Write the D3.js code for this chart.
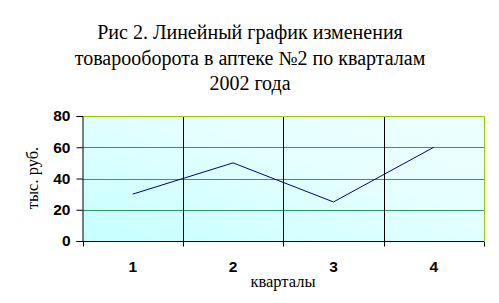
<!DOCTYPE html>
<html>
<head>
<meta charset="utf-8">
<script src="https://cdn.jsdelivr.net/npm/d3@7"></script>
<style>
body { margin: 0; background: #fff; }
svg { display: block; }
</style>
</head>
<body>
<div id="root"></div>
<script>
const titleLines = ["Рис 2. Линейный график изменения", "товарооборота в аптеке №2 по кварталам", "2002 года"];
const quarters = ["1", "2", "3", "4"];
const sales = [30, 50, 25, 60];
const yTicks = [0, 20, 40, 60, 80];
const yLabel = "тыс. руб.";
const xLabel = "кварталы";

const width = 499, height = 303;
const margin = {top: 116, right: 15, bottom: 62, left: 82.5};

const svg = d3.select('#root').append('svg')
	.attr('width', width).attr('height', height);

const defs = svg.append('defs');
const grad = defs.append('linearGradient').attr('id', 'bg')
	.attr('x1', '0%').attr('y1', '100%').attr('x2', '100%').attr('y2', '0%');
grad.append('stop').attr('offset', '0%').attr('stop-color', '#c6ffff');
grad.append('stop').attr('offset', '60%').attr('stop-color', '#e6ffff');
grad.append('stop').attr('offset', '100%').attr('stop-color', '#eeffff');

const x = d3.scaleBand().domain(quarters).range([margin.left, width - margin.right]).padding(0);
const y = d3.scaleLinear().domain([0, 80]).range([height - margin.bottom, margin.top]);

const serif = '"Liberation Serif", "Times New Roman", serif';
const sans = '"Liberation Sans", Arial, sans-serif';

// title
svg.append('g').selectAll('text').data(titleLines).enter().append('text')
	.attr('x', 250).attr('y', (d, i) => 39 + i * 25.5)
	.attr('text-anchor', 'middle')
	.attr('font-family', serif)
	.attr('font-size', 20)
	.text(d => d);

// plot background
svg.append('rect')
	.attr('x', x.range()[0]).attr('y', y(80))
	.attr('width', x.range()[1] - x.range()[0]).attr('height', y(0) - y(80))
	.attr('fill', 'url(#bg)');

// horizontal gridlines
svg.append('g').selectAll('line').data(yTicks.filter(d => d > 0 && d < 80)).enter().append('line')
	.attr('x1', x.range()[0]).attr('x2', x.range()[1])
	.attr('y1', d => Math.round(y(d)) + 0.5).attr('y2', d => Math.round(y(d)) + 0.5)
	.attr('stroke', '#339966');

// vertical gridlines at category boundaries
svg.append('g').selectAll('line').data(quarters.slice(1)).enter().append('line')
	.attr('x1', d => Math.round(x(d)) + 0.5).attr('x2', d => Math.round(x(d)) + 0.5)
	.attr('y1', y(80)).attr('y2', y(0))
	.attr('stroke', '#000');

// top & right border
svg.append('path')
	.attr('d', `M${x.range()[0]},${Math.round(y(80)) + 0.5}H${Math.round(x.range()[1]) + 0.5}V${y(0)}`)
	.attr('fill', 'none').attr('stroke', '#99cc00');

// axes
const yAxis = svg.append('g').attr('transform', `translate(${margin.left},0)`)
	.call(d3.axisLeft(y).tickValues(yTicks).tickSize(6).tickPadding(6));
yAxis.select('.domain').attr('stroke', '#000');
yAxis.selectAll('text').attr('font-family', sans).attr('font-size', 15.5)
	.attr('font-weight', 'bold').attr('fill', '#000');

const bounds = quarters.map(d => x(d)).concat([x.range()[1]]);
const xAxisG = svg.append('g').attr('transform', `translate(0,${Math.round(y(0)) + 0.5})`);
xAxisG.append('line').attr('x1', x.range()[0]).attr('x2', x.range()[1]).attr('stroke', '#000');
xAxisG.selectAll('.tk').data(bounds).enter().append('line')
	.attr('x1', d => Math.round(d) + 0.5).attr('x2', d => Math.round(d) + 0.5)
	.attr('y1', 0).attr('y2', 5).attr('stroke', '#000');
xAxisG.selectAll('text').data(quarters).enter().append('text')
	.attr('x', d => x(d) + x.bandwidth() / 2).attr('y', 30)
	.attr('text-anchor', 'middle')
	.attr('font-family', sans).attr('font-size', 15.5).attr('font-weight', 'bold')
	.text(d => d);

// series line
const line = d3.line()
	.x((d, i) => x(quarters[i]) + x.bandwidth() / 2)
	.y(d => y(d));
svg.append('path').datum(sales)
	.attr('d', line)
	.attr('fill', 'none').attr('stroke', '#000080').attr('stroke-width', 1);

// axis titles
svg.append('text')
	.attr('transform', `translate(38,178) rotate(-90)`)
	.attr('text-anchor', 'middle')
	.attr('font-family', serif)
	.attr('font-size', 16.5)
	.text(yLabel);
svg.append('text')
	.attr('x', 283).attr('y', 287)
	.attr('text-anchor', 'middle')
	.attr('font-family', serif)
	.attr('font-size', 16.5)
	.text(xLabel);
</script>
</body>
</html>
